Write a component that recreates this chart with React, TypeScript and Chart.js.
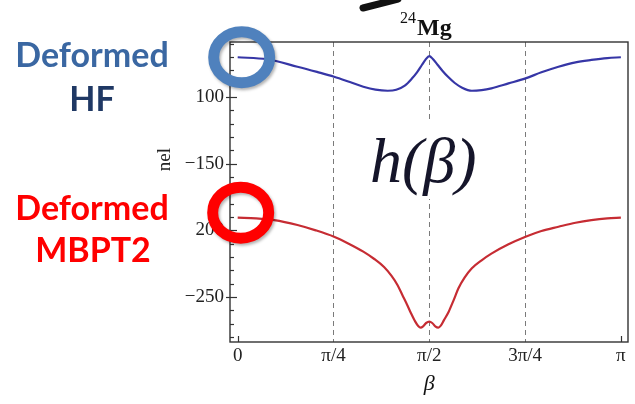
import React, { useEffect, useRef } from "react";
import { Chart, registerables } from "chart.js";

Chart.register(...registerables);

// beta (radians) and energies
const betaHF = [0, 0.24, 0.49, 0.65, 0.79, 0.92, 1.03, 1.13, 1.23, 1.3, 1.37, 1.43, 1.47, 1.51, 1.54, 1.571, 1.6, 1.64, 1.68, 1.72, 1.78, 1.84, 1.92, 2.0, 2.08, 2.22, 2.36, 2.49, 2.63, 2.77, 2.9, 3.03, 3.1416];
const energyHF = [-70.2, -71.7, -77.3, -81.2, -84.8, -88.8, -92.3, -94.5, -95.3, -94.6, -91.5, -86, -81.5, -76, -72, -69.3, -71.5, -76, -80.5, -84.5, -89.5, -93, -95.3, -94.8, -93.5, -89.8, -86, -81.5, -77.3, -74, -72.2, -70.8, -70.2];

const betaMBPT2 = [0, 0.15, 0.3, 0.49, 0.64, 0.79, 0.91, 1.03, 1.12, 1.2, 1.26, 1.31, 1.35, 1.39, 1.42, 1.456, 1.48, 1.5, 1.52, 1.545, 1.571, 1.595, 1.62, 1.645, 1.665, 1.69, 1.73, 1.77, 1.81, 1.86, 1.92, 2.0, 2.08, 2.22, 2.36, 2.49, 2.63, 2.77, 2.9, 3.03, 3.1416];
const energyMBPT2 = [-190.5, -191, -192.3, -196, -200, -204.8, -210, -216, -221.5, -227.5, -234, -241, -248.5, -256, -262, -268.5, -271.8, -273, -272, -269.5, -268.5, -269.5, -272, -273, -271.5, -267.5, -261, -252.5, -243.5, -235.5, -228.5, -222.5, -217.5, -210.5, -204.8, -200.5, -197.3, -194.3, -192.3, -191, -190.5];

const xTickValues = [0, Math.PI / 4, Math.PI / 2, (3 * Math.PI) / 4, Math.PI];
const xTickLabels = ["0", "π/4", "π/2", "3π/4", "π"];
const yTickValues = [-250, -200, -150, -100];
const yTickLabels = ["−250", "200", "−150", "100"];
const dashedAt = [Math.PI / 4, Math.PI / 2, (3 * Math.PI) / 4];

const X_MIN = -0.063;
const X_MAX = 3.2;
const Y_MIN = -283.75;
const Y_MAX = -58.75;

const SERIF = "'Liberation Serif', 'DejaVu Serif', serif";

export default function App() {
  const ref = useRef<HTMLCanvasElement>(null);

  useEffect(() => {
    const canvas = ref.current!;

    const overlay = {
      id: "overlay",
      beforeDatasetsDraw(chart: any) {
        const { ctx, chartArea: a, scales } = chart;
        const x = scales.x;
        ctx.save();
        ctx.strokeStyle = "#7a7a7a";
        ctx.lineWidth = 1;
        ctx.setLineDash([5, 4]);
        for (const v of dashedAt) {
          const px = Math.round(x.getPixelForValue(v)) + 0.5;
          ctx.beginPath();
          ctx.moveTo(px, a.top);
          ctx.lineTo(px, a.bottom);
          ctx.stroke();
        }
        ctx.setLineDash([]);
        // white label box of h(beta)
        ctx.fillStyle = "#ffffff";
        ctx.fillRect(366, 121, 116, 78);
        ctx.restore();
      },
      afterDraw(chart: any) {
        const { ctx, chartArea: a, scales } = chart;
        const x = scales.x;
        const y = scales.y;
        ctx.save();

        // frame
        ctx.strokeStyle = "#333";
        ctx.lineWidth = 1.4;
        ctx.strokeRect(a.left, a.top, a.right - a.left, a.bottom - a.top);

        // y ticks
        ctx.lineWidth = 1.2;
        for (let v = -280; v <= -60; v += 10) {
          const py = Math.round(y.getPixelForValue(v)) + 0.5;
          ctx.beginPath();
          if (v % 50 === 0) {
            ctx.moveTo(a.left - 4, py);
            ctx.lineTo(a.left + 7, py);
          } else {
            ctx.moveTo(a.left, py);
            ctx.lineTo(a.left + 4, py);
          }
          ctx.stroke();
        }
        // x ticks at ends
        for (const v of [0, Math.PI]) {
          const px = Math.round(x.getPixelForValue(v)) + 0.5;
          ctx.beginPath();
          ctx.moveTo(px, a.bottom);
          ctx.lineTo(px, a.bottom - 6);
          ctx.stroke();
        }

        // h(beta)
        ctx.fillStyle = "#15152a";
        ctx.font = `italic 64px ${SERIF}`;
        ctx.textAlign = "left";
        ctx.textBaseline = "alphabetic";
        ctx.fillText("h(β)", 370, 182);

        // title 24Mg
        ctx.fillStyle = "#111";
        ctx.font = `16px ${SERIF}`;
        ctx.fillText("24", 400, 23);
        ctx.font = `bold 24px ${SERIF}`;
        ctx.fillText("Mg", 417, 35);

        // x-axis title
        ctx.font = `italic 22px ${SERIF}`;
        ctx.textAlign = "center";
        ctx.fillText("β", x.getPixelForValue(Math.PI / 2), 390);

        // partially visible y-axis title
        ctx.save();
        ctx.translate(170, 148);
        ctx.rotate(-Math.PI / 2);
        ctx.textAlign = "right";
        ctx.font = `19px ${SERIF}`;
        ctx.fillStyle = "#222";
        ctx.fillText("nel", 0, 0);
        ctx.restore();

        // left labels
        ctx.textAlign = "center";
        ctx.font = "bold 34px Lato, 'Open Sans', sans-serif";
        ctx.fillStyle = "#3a67a2";
        ctx.fillText("Deformed", 92, 67);
        ctx.fillStyle = "#1f3864";
        ctx.fillText("HF", 92, 111);
        ctx.fillStyle = "#ff0000";
        ctx.fillText("Deformed", 92, 220);
        ctx.fillText("MBPT2", 93, 262);

        // circles
        const cx = x.getPixelForValue(0) + 4;
        ctx.shadowColor = "rgba(0,0,0,0.3)";
        ctx.shadowBlur = 3;
        ctx.shadowOffsetX = 1.5;
        ctx.shadowOffsetY = 2;
        ctx.lineWidth = 11;
        ctx.strokeStyle = "#4f81bd";
        ctx.beginPath();
        ctx.ellipse(cx, y.getPixelForValue(energyHF[0]), 28, 25.5, 0, 0, Math.PI * 2);
        ctx.stroke();
        ctx.strokeStyle = "#ff0000";
        ctx.beginPath();
        ctx.ellipse(cx - 1, y.getPixelForValue(energyMBPT2[0]) - 5, 28, 25.5, 0, 0, Math.PI * 2);
        ctx.stroke();

        // brush stroke at top
        ctx.shadowColor = "transparent";
        ctx.strokeStyle = "#111";
        ctx.lineCap = "round";
        ctx.lineWidth = 7;
        ctx.beginPath();
        ctx.moveTo(363, 8);
        ctx.lineTo(398, -1);
        ctx.stroke();

        ctx.restore();
      },
    };

    const chart = new Chart(canvas, {
      type: "line",
      data: {
        datasets: [
          {
            label: "Deformed HF",
            data: betaHF.map((b, i) => ({ x: b, y: energyHF[i] })),
            borderColor: "#3636a6",
            borderWidth: 2.2,
            pointRadius: 0,
            cubicInterpolationMode: "monotone",
            fill: false,
          },
          {
            label: "Deformed MBPT2",
            data: betaMBPT2.map((b, i) => ({ x: b, y: energyMBPT2[i] })),
            borderColor: "#c62c33",
            borderWidth: 2.2,
            pointRadius: 0,
            cubicInterpolationMode: "monotone",
            fill: false,
          },
        ],
      },
      options: {
        animation: false,
        responsive: false,
        devicePixelRatio: 1,
        layout: { padding: { left: 0, top: 42, right: 7, bottom: 0 }, autoPadding: false },
        plugins: {
          legend: { display: false },
          tooltip: { enabled: false },
          title: { display: false },
        },
        scales: {
          x: {
            type: "linear",
            min: X_MIN,
            max: X_MAX,
            grid: { display: false, drawTicks: false },
            border: { display: false },
            afterBuildTicks: (s: any) => {
              s.ticks = xTickValues.map((v) => ({ value: v }));
            },
            afterFit: (s: any) => {
              s.height = 62;
            },
            ticks: {
              callback: (_v: any, i: number) => xTickLabels[i],
              font: { family: "'Liberation Serif', serif", size: 19 },
              color: "#222",
              padding: 3,
              maxRotation: 0,
              autoSkip: false,
            },
          },
          y: {
            type: "linear",
            min: Y_MIN,
            max: Y_MAX,
            grid: { display: false, drawTicks: false },
            border: { display: false },
            afterBuildTicks: (s: any) => {
              s.ticks = yTickValues.map((v) => ({ value: v }));
            },
            afterFit: (s: any) => {
              s.width = 230;
            },
            ticks: {
              callback: (_v: any, i: number) => yTickLabels[i],
              font: { family: "'Liberation Serif', serif", size: 19 },
              color: "#222",
              padding: 6,
              autoSkip: false,
            },
          },
        },
      },
      plugins: [overlay],
    } as any);

    return () => chart.destroy();
  }, []);

  return (
    <canvas
      ref={ref}
      width={635}
      height={404}
      style={{ position: "fixed", left: 0, top: 0, width: 635, height: 404 }}
    />
  );
}
